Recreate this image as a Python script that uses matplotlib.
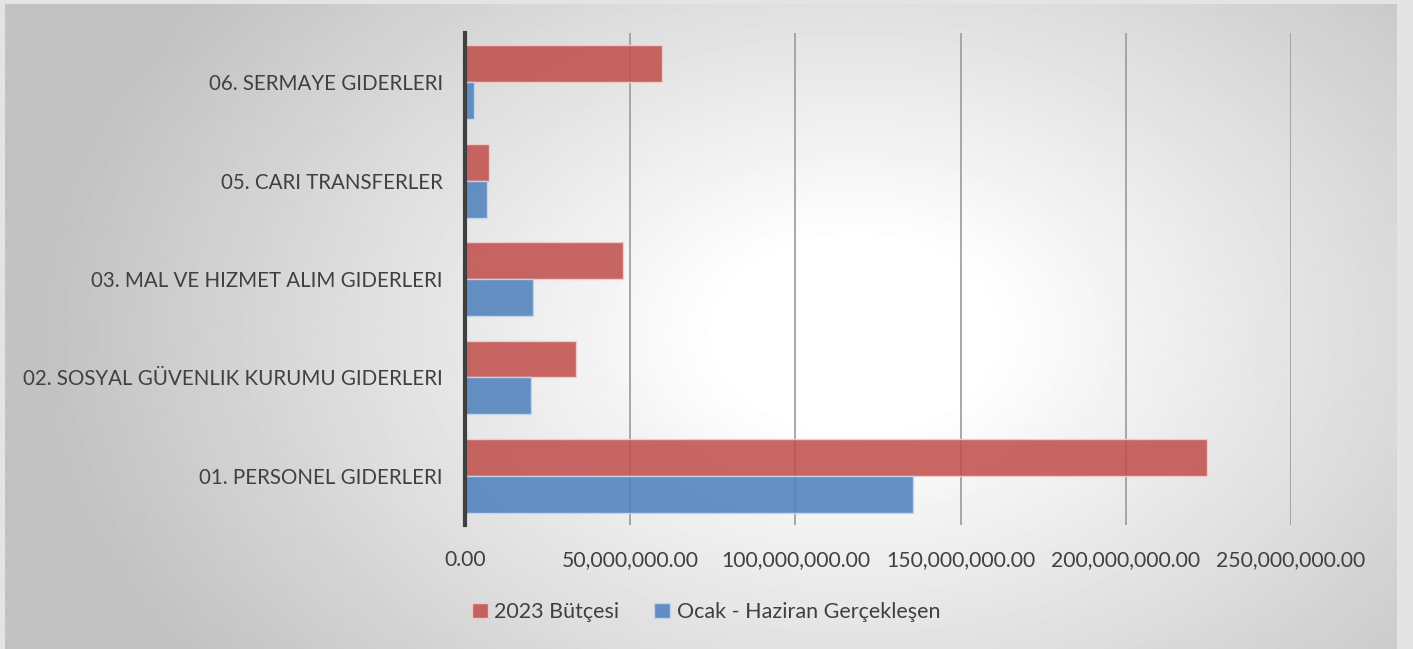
import numpy as np
import matplotlib.pyplot as plt
from matplotlib.ticker import FuncFormatter

categories = ["01. PERSONEL GIDERLERI",
              "02. SOSYAL GÜVENLIK KURUMU GIDERLERI",
              "03. MAL VE HIZMET ALIM GIDERLERI",
              "05. CARI TRANSFERLER",
              "06. SERMAYE GIDERLERI"]
budget_2023 = [224600000, 33600000, 47800000, 7300000, 59600000]
realized = [135600000, 20000000, 20600000, 6700000, 2700000]
series_names = ["2023 Bütçesi", "Ocak - Haziran Gerçekleşen"]

plt.rcParams['font.family'] = ['Lato', 'DejaVu Sans']

W, H = 1413, 649
fig = plt.figure(figsize=(W / 100, H / 100), dpi=100)
fig.patch.set_facecolor("#e4e4e4")

# radial gradient background
bg = fig.add_axes([5 / W, 0, 1392 / W, 1 - 4 / H])
bg.set_axis_off()
yy, xx = np.mgrid[0:646, 0:1392]
r = np.sqrt(((xx - 850) / 900.0) ** 2 + ((yy - 330) / 620.0) ** 2)
shade = np.clip(1.0 - 0.27 * np.clip(r - 0.15, 0, None) / 0.85, 0.76, 1.0)
bg.imshow(shade, cmap="gray", vmin=0, vmax=1, aspect="auto", interpolation="bilinear")

ax = fig.add_axes([465 / W, 1 - 525 / H, (1291 - 465) / W, (525 - 33) / H])
ax.patch.set_alpha(0)

y = np.arange(len(categories))
h = 0.375
ax.barh(y + h / 2, budget_2023, height=h, color="#c0504d", alpha=0.87,
        edgecolor="#f2d0cf", linewidth=1, label=series_names[0], zorder=3)
ax.barh(y - h / 2, realized, height=h, color="#4f81bd", alpha=0.87,
        edgecolor="#c8d8ee", linewidth=1, label=series_names[1], zorder=3)

ax.set_xlim(0, 250000000)
ax.set_ylim(-0.5, len(categories) - 0.5)
ax.set_xticks(np.arange(0, 250000001, 50000000))
ax.xaxis.set_major_formatter(FuncFormatter(lambda v, p: f"{v:,.2f}"))
ax.set_yticks(y)
ax.set_yticklabels(categories)
ax.tick_params(axis="both", length=0, labelcolor="#404040")
ax.tick_params(axis="x", pad=18, labelsize=15.2)
ax.tick_params(axis="y", pad=16, labelsize=14.8)
ax.grid(axis="x", color="#9a9a9a", linewidth=1.2, zorder=1)
ax.set_axisbelow(True)
for s in ["top", "right", "bottom"]:
    ax.spines[s].set_visible(False)
ax.spines["left"].set_color("#404040")
ax.spines["left"].set_linewidth(3)
ax.spines["left"].set_zorder(4)

leg = fig.legend(loc="center", bbox_to_anchor=(706 / W, 1 - 612 / H), ncol=2,
                 frameon=False, fontsize=15.5, handlelength=0.75, handleheight=0.75,
                 handletextpad=0.3, columnspacing=1.6)
for t in leg.get_texts():
    t.set_color("#404040")

fig.savefig("out.png", dpi=100, facecolor=fig.get_facecolor())
